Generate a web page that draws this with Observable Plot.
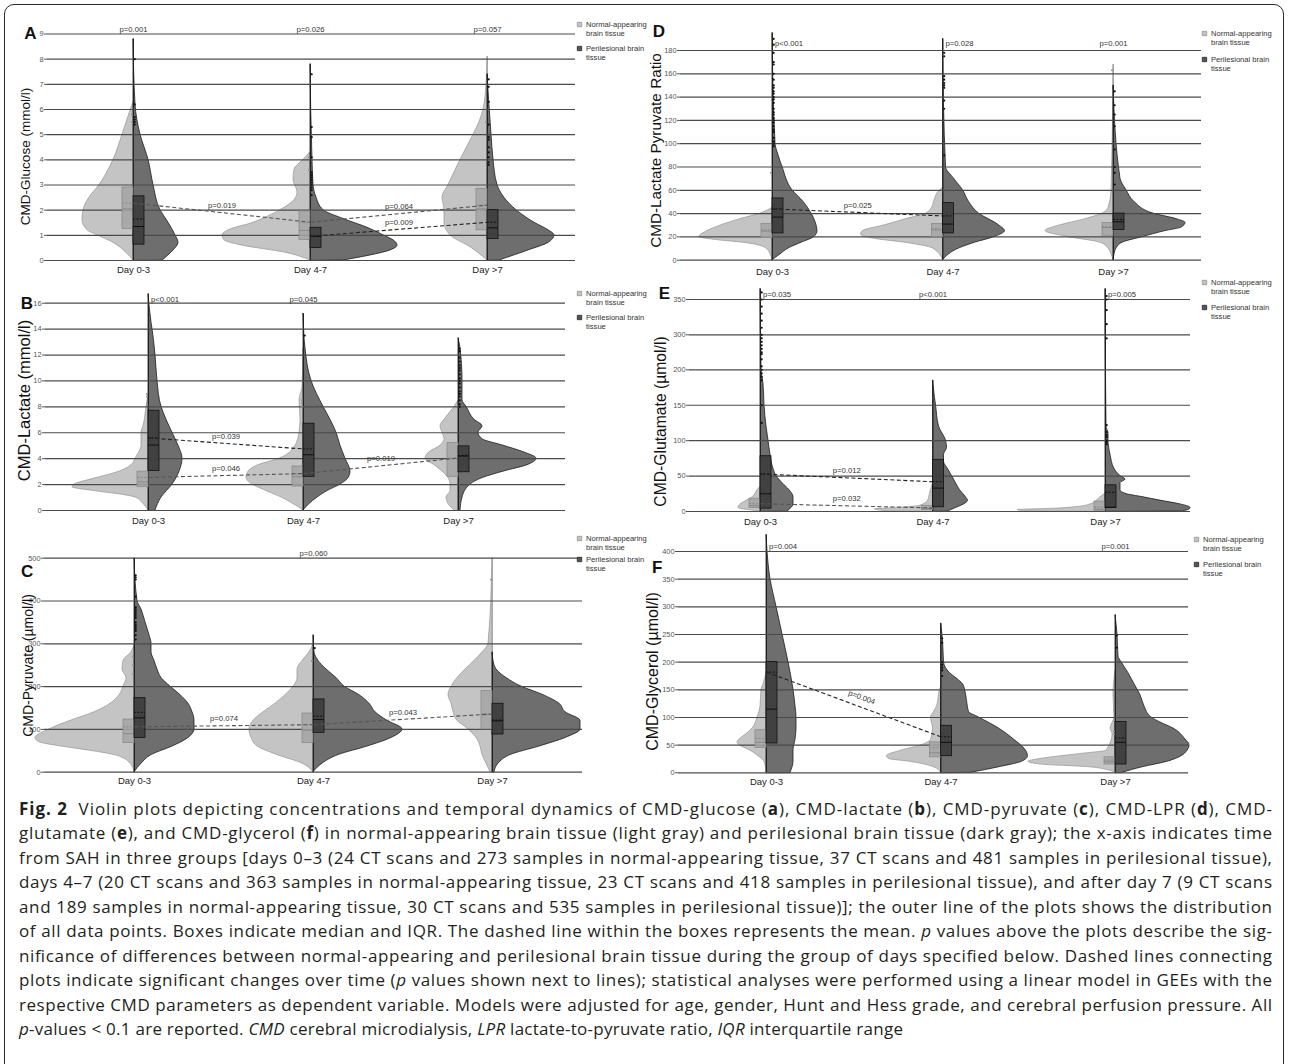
<!DOCTYPE html>
<html><head><meta charset="utf-8">
<script src="https://cdn.jsdelivr.net/npm/d3@7"></script>
<script src="https://cdn.jsdelivr.net/npm/@observablehq/plot@0.6"></script>
<style>
body{margin:0;background:#fff;}
#root{position:relative;width:1290px;height:1064px;overflow:hidden;background:#fff;}
#frame{position:absolute;left:4px;top:4px;width:1280px;height:1090px;border:1.3px solid #2a2a2a;border-radius:10px;box-sizing:border-box;}
</style></head>
<body><div id="root"><div id="frame"></div></div>
<script>
// ---------- shared categories ----------
const days = ["Day 0-3", "Day 4-7", "Day >7"];
const tissueLegend = [["Normal-appearing", "brain tissue"], ["Perilesional brain", "tissue"]];

// ---------- A: CMD-Glucose (mmol/l) ----------
const glucoseTicks = [0,1,2,3,4,5,6,7,8,9];
const glucoseNormal = [
  [[0,0],[0.3,7],[0.7,20],[1,36],[1.2,46],[1.6,51],[2,50],[2.5,44],[3,34],[4,20],[5,11],[5.6,6],[6.3,0]],
  [[0,0],[0.3,24],[0.6,69],[0.8,86],[1,88],[1.2,82],[1.5,57],[1.7,45],[2,30],[2.4,16],[2.7,13],[3.2,17],[3.6,16],[4,7],[4.3,0]],
  [[0,0],[0.5,16],[1,37],[1.5,43],[2,43],[2.5,45],[3,39],[4,27],[5,14],[5.5,8],[6.5,2],[8.1,0]]
];
const glucosePeri = [
  [[0,29],[0.4,40],[0.7,45],[1,42],[1.5,35],[2,27],[3,20],[4,15],[5,7],[6.2,2],[8.8,0]],
  [[0,33],[0.2,60],[0.4,80],[0.6,87],[0.8,83],[1,73],[1.3,57],[1.65,33],[2,13],[2.5,6],[3,3],[4,2],[7.8,0]],
  [[0,12],[0.4,41],[0.7,61],[1,67],[1.2,61],[1.5,47],[2,29],[3,10],[4,6],[5,4],[7.4,0]]
];
const glucoseBoxNormal = [[1.25,2.05,2.9,2.28],[0.82,1.2,1.95,1.52],[1.2,2.05,2.85,2.2]]; // Q1, median, Q3, mean
const glucoseBoxPeri = [[0.63,1.35,2.55,1.65],[0.5,0.96,1.3,0.96],[0.85,1.3,2.0,1.52]];
const glucoseMax = [[6.3,8.8],[4.3,7.8],[8.1,7.4]];
const glucoseOutNormal = [[5.8,5.5],[4.1,3.6],[5.5]];
const glucoseOutPeri = [[8.0,6.2,5.7,5.6,5.5,5.4],[7.4,5.3,4.9,4.1,3.5,3.4,3.3,3.2,3.1,3.0,2.9,2.8,2.6],[7.2,6.9,6.3,5.4,4.9,4.8,4.5,4.3,4.1,3.9,3.8]];
const glucoseP = [[0,"p=0.001"],[1,"p=0.026"],[2,"p=0.057"]];
const glucoseTrend = [[0,0,1,"p=0.019"],[0,1,2,"p=0.064"],[1,1,2,"p=0.009"]];

// ---------- B: CMD-Lactate (mmol/l) ----------
const lactateTicks = [0,2,4,6,8,10,12,14,16];
const lactateNormal = [
  [[0,0],[0.5,5],[1,13],[1.2,25],[1.5,54],[1.8,76],[2,74],[2.5,52],[3,29],[3.5,17],[4,13],[5,7],[6,7],[6.5,5],[8,2],[9,0]],
  [[0,0],[0.5,10],[1,22],[1.5,37],[2,51],[2.5,57],[3,55],[3.5,45],[4,24],[5,8],[6,4],[7,3],[8.5,4],[9.5,1],[12.5,0]],
  [[0,4],[0.5,10],[1,12],[1.5,8],[2,8],[2.5,10],[3,16],[3.5,24],[4,33],[4.5,29],[5,18],[5.5,14],[6,16],[6.5,18],[7,14],[8,4],[8.5,0]]
];
const lactatePeri = [
  [[0,7],[1,13],[2,24],[3,31],[4,34],[5,30],[6,24],[7,18],[8,13],[10,9],[12,7],[14,4],[14.5,3],[16.7,0]],
  [[0,0],[0.5,6],[1,14],[1.5,24],[2,37],[2.5,45],[3,47],[4,42],[5,37],[6,33],[7,27],[8,20],[10,8],[12.5,2],[15.2,0]],
  [[0,2],[1,4],[2,12],[2.5,24],[3,45],[3.5,69],[4,78],[4.5,65],[5,45],[5.5,24],[6,20],[6.5,24],[7,16],[8,8],[8.5,4],[10,4],[12.5,2],[13.3,0]]
];
const lactateBoxNormal = [[1.8,2.2,3.0,2.55],[1.85,2.6,3.4,2.85],[2.6,4.0,5.2,4.05]];
const lactateBoxPeri = [[3.05,5.05,7.7,5.6],[2.6,4.3,6.7,4.75],[2.95,4.2,4.95,4.25]];
const lactateMax = [[9,16.7],[12.5,15.2],[8.5,13.3]];
const lactateOutNormal = [[9,8.8,8.2],[8.5,8.3,8.0],[]];
const lactateOutPeri = [[],[13.5],[12.5,12.3,11.8,11.5,11.2,11.0,10.8,10.5,10.2,10.0,9.8,9.5,9.2,9.0,8.8,8.5,8.2,8.0]];
const lactateP = [[0,"p<0.001"],[1,"p=0.045"]];
const lactateTrend = [[1,0,1,"p=0.039"],[0,0,1,"p=0.046"],[0,1,2,"p=0.019"]];

// ---------- C: CMD-Pyruvate (µmol/l) ----------
const pyruvateTicks = [0,100,200,300,400,500];
const pyruvateNormal = [
  [[0,0],[20,4],[30,9],[40,20],[50,44],[60,73],[70,95],[80,99],[100,85],[120,64],[140,40],[160,24],[180,15],[200,11],[220,8],[240,12],[260,11],[280,3],[300,0]],
  [[0,0],[20,11],[40,36],[60,56],[80,62],[100,64],[120,60],[140,50],[160,38],[180,28],[200,20],[220,16],[240,16],[260,11],[280,4],[300,0]],
  [[0,2],[20,6],[40,10],[60,12],[80,16],[100,24],[120,35],[140,39],[160,41],[180,44],[200,41],[220,35],[240,27],[260,18],[280,10],[300,4],[500,0]]
];
const pyruvatePeri = [
  [[0,0],[20,7],[40,17],[60,38],[80,54],[100,60],[120,60],[140,58],[160,54],[180,46],[200,36],[220,27],[240,23],[260,20],[280,17],[300,17],[320,15],[350,11],[380,7],[400,3],[500,0]],
  [[0,0],[20,9],[40,25],[60,54],[80,78],[100,89],[120,74],[140,62],[160,56],[180,46],[200,31],[220,23],[240,13],[260,5],[280,1],[320,0]],
  [[0,2],[20,6],[40,18],[60,47],[80,73],[100,88],[120,88],[140,73],[160,67],[180,51],[200,29],[220,14],[240,4],[250,2],[280,0]]
];
const pyruvateBoxNormal = [[68,90,123,106],[68,98,137,111],[100,135,190,136]];
const pyruvateBoxPeri = [[80,127,173,140],[92,123,170,131],[88,120,160,122]];
const pyruvateMax = [[300,500],[300,320],[500,280]];
const pyruvateOutNormal = [[270,250,230],[260],[450]];
const pyruvateOutPeri = [[460,455,450,410,385,380,375,370,365,360,350,345,340,335,330,320,310],[290],[]];
const pyruvateP = [[1,"p=0.060"]];
const pyruvateTrend = [[0,0,1,"p=0.074"],[0,1,2,"p=0.043"]];

// ---------- D: CMD-Lactate Pyruvate Ratio ----------
const lprTicks = [0,20,40,60,80,100,120,140,160,180];
const lprNormal = [
  [[0,0],[5,2],[10,6],[15,29],[17,53],[20,73],[25,65],[30,51],[35,33],[40,12],[45,0]],
  [[0,0],[10,10],[15,38],[18,66],[22,82],[25,80],[30,58],[35,38],[40,17],[45,11],[50,9],[60,3],[62,0]],
  [[0,0],[5,2],[10,5],[15,13],[20,46],[25,68],[30,53],[35,29],[40,11],[45,5],[60,2],[168,0]]
];
const lprPeri = [
  [[0,0],[5,8],[10,16],[15,29],[20,42],[25,45],[30,44],[40,39],[50,31],[60,20],[80,10],[90,6],[100,3],[195,0]],
  [[0,0],[10,16],[15,32],[20,52],[25,62],[30,56],[40,36],[50,26],[60,20],[70,11],[80,3],[190,0]],
  [[0,0],[5,1],[10,3],[15,9],[20,30],[25,52],[28,68],[32,72],[35,64],[40,40],[50,21],[60,13],[70,7],[150,0]]
];
const lprBoxNormal = [[19,25,31,26],[20,26,31,27],[21,28,32,29]];
const lprBoxPeri = [[23,37,53,44],[23,31,49,38],[26,33,40,35]];
const lprMax = [[45,195],[62,190],[168,150]];
const lprOutNormal = [[75],[],[163]];
const lprOutPeri = [[190,185,178,170,168,160,155,150,148,145,143,140,138,135,130,127,125,122,120,118,115,112,110,105,102,100,98],[178,175,158,155,152,150,148,137,130,90],[145,133,125,115,95,80,75,65]];
const lprP = [[0,"p<0.001"],[1,"p=0.028"],[2,"p=0.001"]];
const lprTrend = [[1,0,1,"p=0.025"]];

// ---------- E: CMD-Glutamate (µmol/l) ----------
const glutamateTicks = [0,50,100,150,200,300,350];
const glutamateNormal = [
  [[0,0],[2,12],[5,22],[10,20],[15,14],[20,8],[30,3],[35,0]],
  [[0,45],[3,58],[5,35],[8,13],[15,5],[25,3],[40,0]],
  [[0,80],[2,88],[4,50],[6,30],[10,15],[15,9],[20,5],[25,0]]
];
const glutamatePeri = [
  [[0,27],[5,31],[10,33],[20,33],[30,29],[40,22],[50,16],[60,13],[80,10],[100,8],[120,6],[150,4],[180,3],[200,1],[365,0]],
  [[0,15],[5,23],[10,31],[15,35],[20,33],[30,27],[40,23],[50,19],[60,15],[70,11],[80,11],[90,14],[100,13],[120,6],[150,3],[160,2],[185,0]],
  [[0,75],[2,83],[5,85],[10,75],[15,56],[20,38],[25,20],[30,15],[40,15],[45,20],[50,15],[60,9],[80,5],[100,3],[110,3],[120,1],[365,0]]
];
const glutamateBoxNormal = [[5,8,18,11],[2,4,8,5],[1,3,14,6]];
const glutamateBoxPeri = [[4,25,78,53],[6,33,73,42],[5,6,37,27]];
const glutamateMax = [[35,365],[40,185],[25,365]];
const glutamateOutNormal = [[],[],[]];
const glutamateOutPeri = [[360,350,340,330,320,310,300,290,280,270,260,250,245,230,210,200,195,190,185,150,125],[],[355,350,335,315,290,122,112,108,105,100,98,95]];
const glutamateP = [[0,"p=0.035"],[1,"p<0.001"],[2,"p=0.005"]];
const glutamateTrend = [[1,0,1,"p=0.012"],[0,0,1,"p=0.032"]];

// ---------- F: CMD-Glycerol (µmol/l) ----------
const glycerolTicks = [0,50,100,150,200,250,300,350,400];
const glycerolNormal = [
  [[0,0],[20,2],[30,8],[40,16],[50,27],[55,29],[60,27],[70,20],[80,14],[100,9],[120,6],[150,5],[160,3],[180,0]],
  [[0,0],[10,7],[20,31],[25,52],[30,54],[40,40],[50,19],[60,10],[80,8],[100,10],[110,7],[120,4],[150,1],[155,0]],
  [[0,0],[5,8],[10,26],[15,75],[20,87],[25,75],[30,54],[35,30],[40,9],[70,3],[80,5],[100,1],[140,2],[185,0]]
];
const glycerolPeri = [
  [[0,24],[20,27],[40,27],[60,29],[80,30],[100,30],[120,29],[150,27],[200,22],[250,16],[300,10],[350,4],[400,1],[430,0]],
  [[0,30],[10,58],[20,81],[30,87],[40,85],[60,73],[80,58],[100,38],[110,28],[130,26],[150,24],[160,22],[170,16],[180,9],[200,3],[240,2],[270,0]],
  [[0,7],[10,27],[20,52],[30,66],[40,72],[50,74],[60,70],[80,58],[90,46],[100,36],[120,29],[140,25],[160,19],[180,13],[200,6],[210,3],[250,2],[285,0]]
];
const glycerolBoxNormal = [[45,55,77,62],[28,36,55,45],[15,20,28,23]];
const glycerolBoxPeri = [[53,115,200,182],[30,55,85,65],[15,55,92,63]];
const glycerolMax = [[180,430],[155,270],[185,285]];
const glycerolOutNormal = [[],[],[140,113,95,75,70]];
const glycerolOutPeri = [[],[243,235,200,195,190,185,175],[248,226]];
const glycerolP = [[0,"p=0.004"],[2,"p=0.001"]];
const glycerolTrend = [[1,0,1,"p=0.004"]];

// ---------- layout (page pixel positions) ----------
const FONT = "'Liberation Sans', Arial, Helvetica, sans-serif";
const panels = [
  {title:"CMD-Glucose (mmol/l)", ticks:glucoseTicks, normal:glucoseNormal, peri:glucosePeri, boxN:glucoseBoxNormal, boxP:glucoseBoxPeri, maxes:glucoseMax, outN:glucoseOutNormal, outP:glucoseOutPeri, pvals:glucoseP, trends:glucoseTrend,
   lay:{left:0, top:0, width:648, height:290, L:47, R:575, yTop:33.5, yBot:260, centers:[133,310,487], xPad:5.5, pDy:-4, pAnchors:["middle","middle","middle"], titleX:25, titleY:156, titleSize:13.5, letter:"A", letterX:30, letterY:33, legendX:579, legendY:[24,48]}},
  {title:"CMD-Lactate (mmol/l)", ticks:lactateTicks, normal:lactateNormal, peri:lactatePeri, boxN:lactateBoxNormal, boxP:lactateBoxPeri, maxes:lactateMax, outN:lactateOutNormal, outP:lactateOutPeri, pvals:lactateP, trends:lactateTrend,
   lay:{left:0, top:285, width:648, height:250, L:45, R:565, yTop:302.7, yBot:510, centers:[148,303,458], xPad:6.5, pDy:-3.5, pAnchors:["start","middle"], titleX:24.5, titleY:400, titleSize:16.5, letter:"B", letterX:26.5, letterY:302.7, legendX:579, legendY:[293,317]}},
  {title:"CMD-Pyruvate (µmol/l)", ticks:pyruvateTicks, normal:pyruvateNormal, peri:pyruvatePeri, boxN:pyruvateBoxNormal, boxP:pyruvateBoxPeri, maxes:pyruvateMax, outN:pyruvateOutNormal, outP:pyruvateOutPeri, pvals:pyruvateP, trends:pyruvateTrend,
   lay:{left:0, top:530, width:648, height:270, L:44, R:582, yTop:557.7, yBot:771.7, centers:[134,313,492], xPad:5.5, pDy:-4.4, pAnchors:["middle"], titleX:28, titleY:665, titleSize:14, letter:"C", letterX:26.7, letterY:570.7, legendX:579, legendY:[538,559]}},
  {title:"CMD-Lactate Pyruvate Ratio", ticks:lprTicks, normal:lprNormal, peri:lprPeri, boxN:lprBoxNormal, boxP:lprBoxPeri, maxes:lprMax, outN:lprOutNormal, outP:lprOutPeri, pvals:lprP, trends:lprTrend,
   lay:{left:645, top:0, width:645, height:290, L:680, R:1201, yTop:50, yBot:259.7, centers:[772,943,1113], xPad:8.5, pDy:-6.7, pAnchors:["start","start","middle"], titleX:656, titleY:150, titleSize:15.3, letter:"D", letterX:658.3, letterY:31, legendX:1204, legendY:[33,59]}},
  {title:"CMD-Glutamate (µmol/l)", ticks:glutamateTicks, normal:glutamateNormal, peri:glutamatePeri, boxN:glutamateBoxNormal, boxP:glutamateBoxPeri, maxes:glutamateMax, outN:glutamateOutNormal, outP:glutamateOutPeri, pvals:glutamateP, trends:glutamateTrend,
   lay:{left:645, top:285, width:645, height:250, L:689, R:1190, yTop:299, yBot:511, yDomain:[0,200,300,370], yRange:[511,369.3,334.3,284.9], centers:[760,932,1105], xPad:6.5, pDy:-4.7, pAnchors:["start","middle","start"], titleX:660, titleY:421, titleSize:15.7, letter:"E", letterX:664, letterY:292.7, legendX:1204, legendY:[282,307]}},
  {title:"CMD-Glycerol (µmol/l)", ticks:glycerolTicks, normal:glycerolNormal, peri:glycerolPeri, boxN:glycerolBoxNormal, boxP:glycerolBoxPeri, maxes:glycerolMax, outN:glycerolOutNormal, outP:glycerolOutPeri, pvals:glycerolP, trends:glycerolTrend,
   lay:{left:645, top:530, width:645, height:270, L:678, R:1188, yTop:551, yBot:772.3, centers:[766,941,1115], xPad:5.5, pDy:-5, pAnchors:["start","middle"], titleX:652, titleY:671, titleSize:16, letter:"F", letterX:656.7, letterY:566.7, legendX:1196, legendY:[539,564], trendRotate:20, trendDx:8}}
];

function buildPanel(d) {
  const lay = d.lay;
  const {left, top, width, height, L, R, yTop, yBot} = lay;
  const c = lay.centers;
  const s = (c[2] - c[0]) / 2;
  const xDom = [(L - c[0]) / s, (R - c[0]) / s];
  const yDomain = lay.yDomain || [0, d.ticks[d.ticks.length - 1]];
  const yRange = (lay.yRange || [yBot, yTop]).map(v => v - top);
  const half = (profiles, sign) => profiles.flatMap((prof, g) => prof.map(([v, w]) => ({g, v, xa: sign < 0 ? g - w / s : g, xb: sign < 0 ? g : g + w / s})));
  const lightRows = half(d.normal, -1), darkRows = half(d.peri, 1);
  const bw = 11 / s;
  const boxes = (arr, sign) => arr.map(([q1, med, q3, mean], g) => ({g, q1, med, q3, mean, xa: sign < 0 ? g - bw : g, xb: sign < 0 ? g : g + bw}));
  const bN = boxes(d.boxN, -1), bP = boxes(d.boxP, 1);
  const tails = d.maxes.map(([mn, mp], g) => ({g, mn, mp}));
  const outs = arr => arr.flatMap((vals, g) => vals.map(v => ({g, v})));
  const trendRows = d.trends.map(([t, a, b, p]) => {
    const src = t === 0 ? d.boxN : d.boxP;
    return {t, x1: a, x2: b, y1: src[a][3], y2: src[b][3], xm: (a + b) / 2, ym: (src[a][3] + src[b][3]) / 2, p};
  });
  const pRows = d.pvals.map(([g, text], i) => ({g, text, anchor: lay.pAnchors[i]}));
  const topVal = d.ticks[d.ticks.length - 1];
  const fa = (px, py) => ({frameAnchor: "top-left", dx: px - L, dy: py - yTop, lineAnchor: "middle"});
  const legendText = [
    [tissueLegend[0][0], lay.legendY[0]], [tissueLegend[0][1], lay.legendY[0] + 9],
    [tissueLegend[1][0], lay.legendY[1]], [tissueLegend[1][1], lay.legendY[1] + 9]
  ].map(([t, py]) => Plot.text([t], {...fa(lay.legendX + 6.5, py), textAnchor: "start", fontSize: 7.6, fill: "#333"}));

  const svg = Plot.plot({
    width, height,
    marginLeft: L - left, marginRight: width - (R - left), marginTop: yTop - top, marginBottom: height - (yBot - top),
    style: {fontFamily: FONT, background: "transparent", overflow: "visible"},
    x: {type: "linear", domain: xDom, range: [L - left, R - left]},
    y: {type: "linear", domain: yDomain, range: yRange},
    marks: [
      Plot.ruleX(tails, {x: "g", y1: 0, y2: "mn", stroke: "#a5a5a5", strokeWidth: 0.8}),
      Plot.areaX(lightRows, {y: "v", x1: "xa", x2: "xb", z: "g", fill: "#c4c4c4", stroke: "#939393", strokeWidth: 0.7, curve: "monotone-y"}),
      Plot.areaX(darkRows, {y: "v", x1: "xa", x2: "xb", z: "g", fill: "#6e6e6e", stroke: "#1c1c1c", strokeWidth: 0.8, curve: "monotone-y"}),
      Plot.ruleX(tails, {x: "g", y1: 0, y2: "mp", stroke: "#1c1c1c", strokeWidth: 0.9}),
      Plot.ruleY(d.ticks, {stroke: "#4a4a4a", strokeWidth: 1.2}),
      Plot.rect(bN, {x1: "xa", x2: "xb", y1: "q1", y2: "q3", fill: "#a4a4a4", fillOpacity: 0.85, stroke: "#8b8b8b", strokeWidth: 0.8}),
      Plot.ruleY(bN, {x1: "xa", x2: "xb", y: "med", stroke: "#868686", strokeWidth: 0.9}),
      Plot.ruleY(bN, {x1: "xa", x2: "xb", y: "mean", stroke: "#868686", strokeWidth: 0.9, strokeDasharray: "2,1.5"}),
      Plot.rect(bP, {x1: "xa", x2: "xb", y1: "q1", y2: "q3", fill: "#3e3e3e", fillOpacity: 0.95, stroke: "#111", strokeWidth: 0.8}),
      Plot.ruleY(bP, {x1: "xa", x2: "xb", y: "med", stroke: "#0a0a0a", strokeWidth: 0.9}),
      Plot.ruleY(bP, {x1: "xa", x2: "xb", y: "mean", stroke: "#0a0a0a", strokeWidth: 0.9, strokeDasharray: "2,1.5"}),
      Plot.link(trendRows.filter(r => r.t === 0), {x1: "x1", y1: "y1", x2: "x2", y2: "y2", stroke: "#555", strokeWidth: 1.1, strokeDasharray: "4,2.5"}),
      Plot.link(trendRows.filter(r => r.t === 1), {x1: "x1", y1: "y1", x2: "x2", y2: "y2", stroke: "#222", strokeWidth: 1.1, strokeDasharray: "4,2.5"}),
      Plot.text(trendRows, {x: "xm", y: "ym", text: "p", dy: -7, dx: lay.trendDx || 0, rotate: lay.trendRotate || 0, fontSize: 7.7, fill: "#333"}),
      Plot.dot(outs(d.outN), {x: "g", y: "v", dx: -1.5, r: 1, fill: "#8c8c8c"}),
      Plot.dot(outs(d.outP), {x: "g", y: "v", dx: 1.2, r: 1.1, fill: "#111"}),
      Plot.axisY(d.ticks, {tickSize: 3, tickPadding: 1, fontSize: 7.4, color: "#555", label: null}),
      Plot.axisX([0, 1, 2], {tickSize: 0, tickPadding: lay.xPad, fontSize: 9.5, tickFormat: i => days[i], color: "#222", label: null}),
      Plot.text(pRows.filter(r => r.anchor === "start"), {x: "g", y: topVal, text: "text", textAnchor: "start", dx: 2.5, dy: lay.pDy, fontSize: 7.7, fill: "#333"}),
      Plot.text(pRows.filter(r => r.anchor !== "start"), {x: "g", y: topVal, text: "text", textAnchor: "middle", dy: lay.pDy, fontSize: 7.7, fill: "#333"}),
      Plot.text([d.title], {...fa(lay.titleX, lay.titleY), textAnchor: "middle", rotate: -90, fontSize: lay.titleSize, fill: "#111"}),
      Plot.text([lay.letter], {...fa(lay.letterX, lay.letterY), textAnchor: "middle", fontSize: 17, fontWeight: "bold", fill: "#111"}),
      Plot.dot([0], {...fa(lay.legendX, lay.legendY[0]), symbol: "square", r: 2.5, fill: "#c4c4c4", stroke: "#8a8a8a", strokeWidth: 0.7}),
      Plot.dot([0], {...fa(lay.legendX, lay.legendY[1]), symbol: "square", r: 2.5, fill: "#555", stroke: "#1c1c1c", strokeWidth: 0.7}),
      ...legendText
    ]
  });
  svg.style.position = "absolute";
  svg.style.left = left + "px";
  svg.style.top = top + "px";
  return svg;
}

const root = document.getElementById("root");
panels.forEach(p => root.appendChild(buildPanel(p)));

// ---------- caption ----------
const captionLines = [
  [["b","Fig. 2"],["n","  Violin plots depicting concentrations and temporal dynamics of CMD-glucose ("],["b","a"],["n","), CMD-lactate ("],["b","b"],["n","), CMD-pyruvate ("],["b","c"],["n","), CMD-LPR ("],["b","d"],["n","), CMD-"]],
  [["n","glutamate ("],["b","e"],["n","), and CMD-glycerol ("],["b","f"],["n",") in normal-appearing brain tissue (light gray) and perilesional brain tissue (dark gray); the x-axis indicates time"]],
  [["n","from SAH in three groups [days 0–3 (24 CT scans and 273 samples in normal-appearing tissue, 37 CT scans and 481 samples in perilesional tissue),"]],
  [["n","days 4–7 (20 CT scans and 363 samples in normal-appearing tissue, 23 CT scans and 418 samples in perilesional tissue), and after day 7 (9 CT scans"]],
  [["n","and 189 samples in normal-appearing tissue, 30 CT scans and 535 samples in perilesional tissue)]; the outer line of the plots shows the distribution"]],
  [["n","of all data points. Boxes indicate median and IQR. The dashed line within the boxes represents the mean. "],["i","p"],["n"," values above the plots describe the sig-"]],
  [["n","nificance of differences between normal-appearing and perilesional brain tissue during the group of days specified below. Dashed lines connecting"]],
  [["n","plots indicate significant changes over time ("],["i","p"],["n"," values shown next to lines); statistical analyses were performed using a linear model in GEEs with the"]],
  [["n","respective CMD parameters as dependent variable. Models were adjusted for age, gender, Hunt and Hess grade, and cerebral perfusion pressure. All"]],
  [["i","p"],["n","-values < 0.1 are reported. "],["i","CMD"],["n"," cerebral microdialysis, "],["i","LPR"],["n"," lactate-to-pyruvate ratio, "],["i","IQR"],["n"," interquartile range"]]
];
const NS = "http://www.w3.org/2000/svg";
const cap = document.createElementNS(NS, "svg");
cap.setAttribute("width", 1290);
cap.setAttribute("height", 276);
cap.style.position = "absolute";
cap.style.left = "0px";
cap.style.top = "788px";
captionLines.forEach((segs, i) => {
  const t = document.createElementNS(NS, "text");
  t.setAttribute("x", 19);
  t.setAttribute("y", 27 + i * 24.45);
  t.setAttribute("textLength", i < captionLines.length - 1 ? 1253 : 884);
  t.setAttribute("lengthAdjust", "spacing");
  t.setAttribute("style", "white-space:pre;font-family:'Open Sans','Noto Sans',sans-serif;font-size:17px;fill:#231f20");
  segs.forEach(([k, str]) => {
    const ts = document.createElementNS(NS, "tspan");
    if (k === "b") ts.setAttribute("font-weight", "bold");
    if (k === "i") ts.setAttribute("font-style", "italic");
    ts.textContent = str;
    t.appendChild(ts);
  });
  cap.appendChild(t);
});
root.appendChild(cap);
</script>
</body></html>
